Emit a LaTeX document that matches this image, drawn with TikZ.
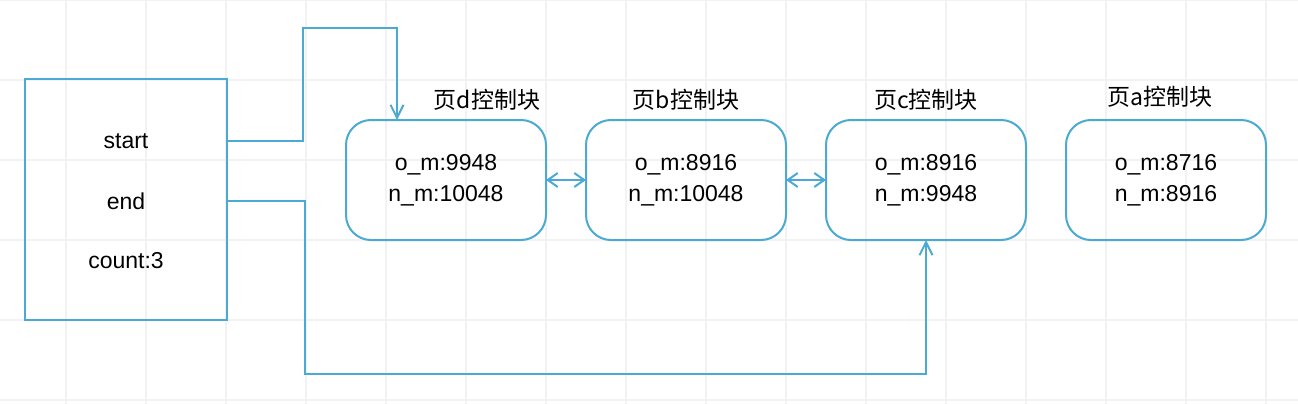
\documentclass[tikz,border=0pt]{standalone}
\usepackage{fontspec}
\setmainfont{Liberation Sans}
\newfontfamily\cjk{Noto Sans CJK SC}
\usetikzlibrary{calc, positioning}
\usetikzlibrary{arrows.meta}

\definecolor{lineblue}{RGB}{75,169,211}
\definecolor{gridgray}{RGB}{242,242,242}

\tikzset{
  pagebox/.style={draw=lineblue, line width=2pt, rounded corners=25pt,
    outer sep=0pt, minimum width=200pt, minimum height=120pt, align=center,
    font=\fontsize{23}{31}\selectfont},
  ctlbox/.style={draw=lineblue, line width=2pt, outer sep=0pt,
    minimum width=202pt, minimum height=241pt},
  field/.style={font=\fontsize{23}{28}\selectfont},
  title/.style={font=\cjk\fontsize{23}{28}\selectfont},
  link/.style={draw=lineblue, line width=2pt},
  barb/.style={Straight Barb[length=10pt, width=14pt]},
}

\begin{document}
\begin{tikzpicture}[x=1pt, y=-1pt]
\useasboundingbox (0,0) rectangle (1298,404);

% background grid
\foreach \gx in {66,146,...,1266}
  \draw[gridgray, line width=2pt] (\gx,0) -- (\gx,404);
\foreach \gy in {0,80,...,400}
  \draw[gridgray, line width=2pt] (0,\gy) -- (1298,\gy);

% control block
\node[ctlbox] (ctl) at (126,199.5) {};
\node[field] (start) at (126,141) {start};
\node[field] (end) at (126,201) {end};
\node[field] (count) at (126,261) {count:3};

% page control blocks
\node[pagebox] (d) at (446,180) {o\_m:9948\\n\_m:10048};
\node[pagebox, right=40pt of d] (b) {o\_m:8916\\n\_m:10048};
\node[pagebox, right=40pt of b] (c) {o\_m:8916\\n\_m:9948};
\node[pagebox, right=40pt of c] (a) {o\_m:8716\\n\_m:8916};

\node[title] (dtitle) at ($(d.north)+(41,-20)$) {页d控制块};
\node[title] (btitle) at ($(b.north)+(0,-20)$) {页b控制块};
\node[title] (ctitle) at ($(c.north)+(0,-20)$) {页c控制块};
\node[title] (atitle) at ($(a.north)+(-6,-23)$) {页a控制块};

% links
\coordinate (upturn) at (303,28);
\coordinate (downturn) at (305,374);
\coordinate (dentry) at ($(d.north west)+(51,0)$);

\draw[link, -{Straight Barb[length=13pt, width=13pt]}]
  (start -| ctl.east) -| (upturn) -| (dentry);
\draw[link, -{Straight Barb[length=13pt, width=13pt]}]
  (end -| ctl.east) -| (downturn) -| (c.south);
\draw[link, {Straight Barb[length=10pt, width=14pt]}-{Straight Barb[length=10pt, width=14pt]}]
  (d.east) -- (b.west);
\draw[link, {Straight Barb[length=10pt, width=14pt]}-{Straight Barb[length=10pt, width=14pt]}]
  (b.east) -- (c.west);
\end{tikzpicture}
\end{document}
